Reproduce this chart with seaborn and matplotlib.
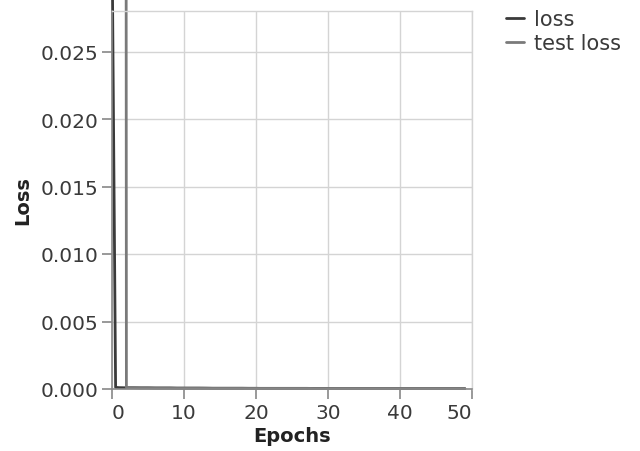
import pandas as pd
import matplotlib
matplotlib.use('Agg')
import matplotlib.pyplot as plt
import seaborn as sns

# training loss, logged at epoch 0, mid first epoch, then every epoch
loss_epochs = [0, 0.5] + list(range(1, 50))
loss = [0.034, 0.00012,
        0.00010, 0.00009, 0.00009, 0.00008, 0.00008, 0.00007, 0.00007, 0.00007, 0.00006, 0.00006,
        0.00006, 0.00006, 0.00006, 0.00005, 0.00005, 0.00005, 0.00005, 0.00005, 0.00005, 0.00005,
        0.00004, 0.00004, 0.00004, 0.00004, 0.00004, 0.00004, 0.00004, 0.00004, 0.00004, 0.00004,
        0.00003, 0.00003, 0.00003, 0.00003, 0.00003, 0.00003, 0.00003, 0.00003, 0.00003, 0.00003,
        0.00003, 0.00003, 0.00003, 0.00003, 0.00003, 0.00003, 0.00003, 0.00003, 0.00003]

# test loss, evaluated after each epoch
test_epochs = list(range(1, 50))
test_loss = [0.9, 0.00011, 0.00010, 0.00009, 0.00009, 0.00008, 0.00008, 0.00008, 0.00007, 0.00007,
             0.00007, 0.00007, 0.00006, 0.00006, 0.00006, 0.00006, 0.00006, 0.00006, 0.00005, 0.00005,
             0.00005, 0.00005, 0.00005, 0.00005, 0.00005, 0.00005, 0.00005, 0.00004, 0.00004, 0.00004,
             0.00004, 0.00004, 0.00004, 0.00004, 0.00004, 0.00004, 0.00004, 0.00004, 0.00004, 0.00004,
             0.00004, 0.00004, 0.00004, 0.00004, 0.00004, 0.00004, 0.00004, 0.00004, 0.00004]

x_ticks = [0, 10, 20, 30, 40, 50]
y_ticks = [0.000, 0.005, 0.010, 0.015, 0.020, 0.025]

df = pd.concat([
    pd.DataFrame({'epoch': loss_epochs, 'value': loss, 'series': 'loss'}),
    pd.DataFrame({'epoch': test_epochs, 'value': test_loss, 'series': 'test loss'}),
])

sns.set_style('white')
plt.rcParams['font.family'] = ['DejaVu Sans']

fig = plt.figure(figsize=(6.4, 4.52), dpi=100)
ax = fig.add_axes([112 / 640, 62 / 452, 360 / 640, 378 / 452])

sns.lineplot(data=df, x='epoch', y='value', hue='series',
             palette={'loss': '#3a3a3a', 'test loss': '#7a7a7a'},
             linewidth=2.0, ax=ax, legend=False)
for line in ax.lines:
    line.set_clip_on(False)

ax.set_xlim(0, 50)
ax.set_ylim(0, 0.028)
ax.set_xticks(x_ticks)
ax.set_yticks(y_ticks)
ax.set_yticklabels([f'{v:.3f}' for v in y_ticks])
ax.grid(True, color='#d4d4d4', linewidth=1.0)
ax.set_axisbelow(True)

for side in ['top', 'right']:
    ax.spines[side].set_color('#d4d4d4')
    ax.spines[side].set_linewidth(1.0)
for side in ['left', 'bottom']:
    ax.spines[side].set_color('#888888')
    ax.spines[side].set_linewidth(1.2)

ax.tick_params(axis='both', which='both', direction='out', length=7, width=1.2,
               color='#888888', labelsize=14.5, labelcolor='#3a3a3a', pad=3,
               left=True, bottom=True)
xlabels = ax.get_xticklabels()
xlabels[0].set_horizontalalignment('left')
xlabels[-1].set_horizontalalignment('right')

ax.set_xlabel('Epochs', fontsize=14, fontweight='bold', color='#222222', labelpad=3)
ax.set_ylabel('Loss', fontsize=14, fontweight='bold', color='#222222', labelpad=6)

handles = [plt.Line2D([], [], color='#3a3a3a', linewidth=2.0),
           plt.Line2D([], [], color='#7a7a7a', linewidth=2.0)]
fig.legend(handles, ['loss', 'test loss'], loc='upper left',
           bbox_to_anchor=(506 / 640, 1 - 10 / 452), frameon=False,
           fontsize=15, handlelength=0.85, handletextpad=0.5,
           labelspacing=0.2, borderpad=0, borderaxespad=0,
           labelcolor='#3a3a3a')

fig.savefig('out.png', dpi=100)
